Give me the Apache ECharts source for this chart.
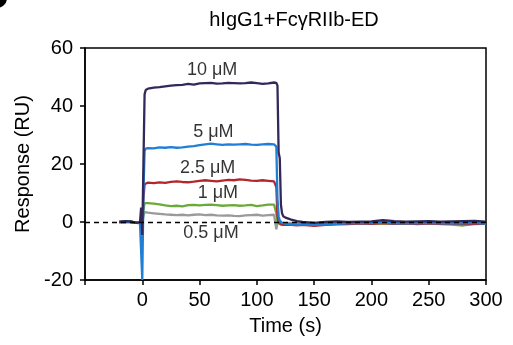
<!DOCTYPE html>
<html>
<head>
<meta charset="utf-8">
<script src="https://cdn.jsdelivr.net/npm/echarts@6/dist/echarts.min.js"></script>
<style>html,body{margin:0;padding:0;background:#fff;}#c{width:513px;height:345px;}</style>
</head>
<body>
<div id="c"></div>
<script>
// Time points (s)
var times = [-20,-15,-10,-5,-2,-1,0,1,2,3,5,10,15,20,25,30,35,40,45,50,55,60,65,70,75,80,85,90,95,100,105,110,115,116,117,118,119,120,121,122,123,125,130,135,140,150,160,170,180,190,200,210,220,230,240,250,260,270,280,290,300];

// Response (RU) per concentration
var r10 = [0,0.3,0.2,-0.3,0,5,-4.5,20,44,45.5,46,46.3,46.5,46.8,47,47.2,47.3,47.6,47.4,47.8,47.9,48,47.7,47.8,48,47.9,47.8,47.9,48.1,47.9,47.6,47.8,48.1,48,48,47,24,22,6,3,2,1.5,0.8,0.3,0,-0.3,0,0.2,0,0.1,0.2,0.6,0.3,0.1,0.2,0.3,0.1,0.2,0.3,0.4,0.1];
var r5 = [0,0,0,-0.3,-0.5,0,-20,10,24.5,25.3,25.5,25.4,25.7,25.6,25.8,25.6,25.7,26,26.2,26.5,26.8,27,26.8,26.6,26.8,26.7,26.8,26.9,26.7,26.6,26.8,26.9,26.8,26.8,26,8,2,0.5,0,-0.3,-0.5,-0.6,-0.8,-1,-0.8,-1,-0.8,-0.6,-0.5,-0.3,-0.4,-0.2,-0.5,-0.4,-0.5,-0.3,-0.5,-0.4,-0.5,-0.3,-0.6];
var r25 = [0,0.1,0,-0.2,-0.3,0.5,-2,8,13,13.3,13.6,13.4,13.7,13.5,13.8,14,13.8,13.7,13.9,14.2,14.4,14.2,14,14.3,14.5,14.4,14.7,14.5,14.3,14.2,14.4,14.2,14,13.8,12,2,0,-0.5,-0.8,-0.9,-1,-1,-1,-1.2,-1,-1.3,-1,-0.8,-0.7,-0.5,-0.6,-0.4,-0.6,-0.5,-0.7,-0.5,-0.6,-0.5,-0.7,-0.6,-0.6];
var r1 = [0,0,0.1,-0.2,-0.2,0.3,-1,4,6.5,6.7,6.5,6.3,6.1,5.7,5.5,5.6,5.4,5.8,5.9,5.7,5.9,6,5.8,5.6,5.7,5.8,5.6,5.7,5.9,5.5,5.7,6,6,5.9,3,0,-0.5,-0.7,-0.8,-0.8,-0.9,-0.9,-1,-0.9,-0.8,-0.9,-0.7,-0.6,-0.6,-0.5,-0.6,-0.5,-0.6,-0.5,-0.6,-0.5,-0.7,-0.9,-1.2,-0.7,-0.6];
var r05 = [0,0,0,-0.1,-0.2,0.2,-0.5,2,3.4,3.6,3.2,3,2.8,2.6,2.5,2.4,2.5,2.3,2.5,2.6,2.4,2.5,2.3,2.2,2.3,2.1,2,2.3,2.4,2.5,2.2,2.4,2.5,2.3,-2.5,-0.5,-0.3,-0.3,-0.4,-0.4,-0.4,-0.4,-0.3,-0.4,-0.3,-0.4,-0.3,-0.3,-0.2,-0.3,-0.2,-0.3,-0.2,-0.3,-0.2,-0.3,-0.2,-0.3,-0.2,-0.3,-0.3];

// Concentration labels: text, time, response
var labelTexts = ['10 \u03bcM','5 \u03bcM','2.5 \u03bcM','1 \u03bcM','0.5 \u03bcM'];
var labelX = [61,62,57,66,60];
var labelY = [52.4,31,18.6,10,-3.8];

var xTicks = [-50,0,50,100,150,200,250,300];
var yTicks = [-20,0,20,40,60];

function pairs(v){ return times.map(function(t,i){ return [t, v[i]]; }); }

var colors = {r05:'#9a9a9a', r1:'#6aaa3a', r25:'#b3262c', r5:'#1f7fd4', r10:'#34285a'};

var chart = echarts.init(document.getElementById('c'), null, {renderer:'canvas'});
var lineBase = function(name, data, color){
  return {name:name, type:'line', data:pairs(data), showSymbol:false, symbol:'none',
    lineStyle:{color:color, width:2.3}, itemStyle:{color:color}, z:3};
};
var font = 'Liberation Sans, Arial, sans-serif';
var option = {
  animation:false,
  grid:{left:85, right:27, top:48, bottom:65, show:true, borderColor:'#000', borderWidth:1.5},
  xAxis:{type:'value', min:-50, max:300, interval:50,
    name:'Time (s)', nameLocation:'middle', nameGap:36,
    nameTextStyle:{fontSize:20, color:'#000', fontFamily:font},
    axisLine:{onZero:false, lineStyle:{color:'#000', width:1.5}},
    axisTick:{show:true, length:5, lineStyle:{color:'#000', width:1.5}},
    axisLabel:{fontSize:20, color:'#000', fontFamily:font, margin:10,
      formatter:function(v){ return v === xTicks[0] ? '' : String(v); }},
    splitLine:{show:false}},
  yAxis:{type:'value', min:-20, max:60, interval:20,
    name:'Response (RU)', nameLocation:'middle', nameGap:50,
    nameTextStyle:{fontSize:20, color:'#000', fontFamily:font},
    axisLine:{onZero:false, lineStyle:{color:'#000', width:1.5}},
    axisTick:{show:true, length:5, lineStyle:{color:'#000', width:1.5}},
    axisLabel:{fontSize:20, color:'#000', fontFamily:font, margin:12},
    splitLine:{show:false}},
  graphic:[
    {type:'text', x:294, y:20, style:{text:'hIgG1+Fc\u03b3RIIb-ED', fontSize:20, fontFamily:font, fill:'#000', textAlign:'center', textVerticalAlign:'middle'}},
    {type:'circle', shape:{cx:-3, cy:-2, r:10}, style:{fill:'#000'}}
  ],
  series:[
    lineBase('0.5 uM', r05, colors.r05),
    lineBase('1 uM', r1, colors.r1),
    lineBase('2.5 uM', r25, colors.r25),
    lineBase('5 uM', r5, colors.r5),
    lineBase('10 uM', r10, colors.r10),
    {type:'line', data:[], markLine:{silent:true, symbol:'none', label:{show:false},
      lineStyle:{color:'#000', type:[5,4], width:1.3}, data:[{yAxis:0}]}, z:4},
    {type:'scatter', symbolSize:0, z:5,
      data:labelTexts.map(function(t,i){ return {name:t, value:[labelX[i], labelY[i]]}; }),
      label:{show:true, position:'inside', formatter:function(p){return p.name;}, fontSize:18, color:'#000', textBorderWidth:0, fontFamily:font}}
  ]
};
chart.setOption(option);
</script>
</body>
</html>
